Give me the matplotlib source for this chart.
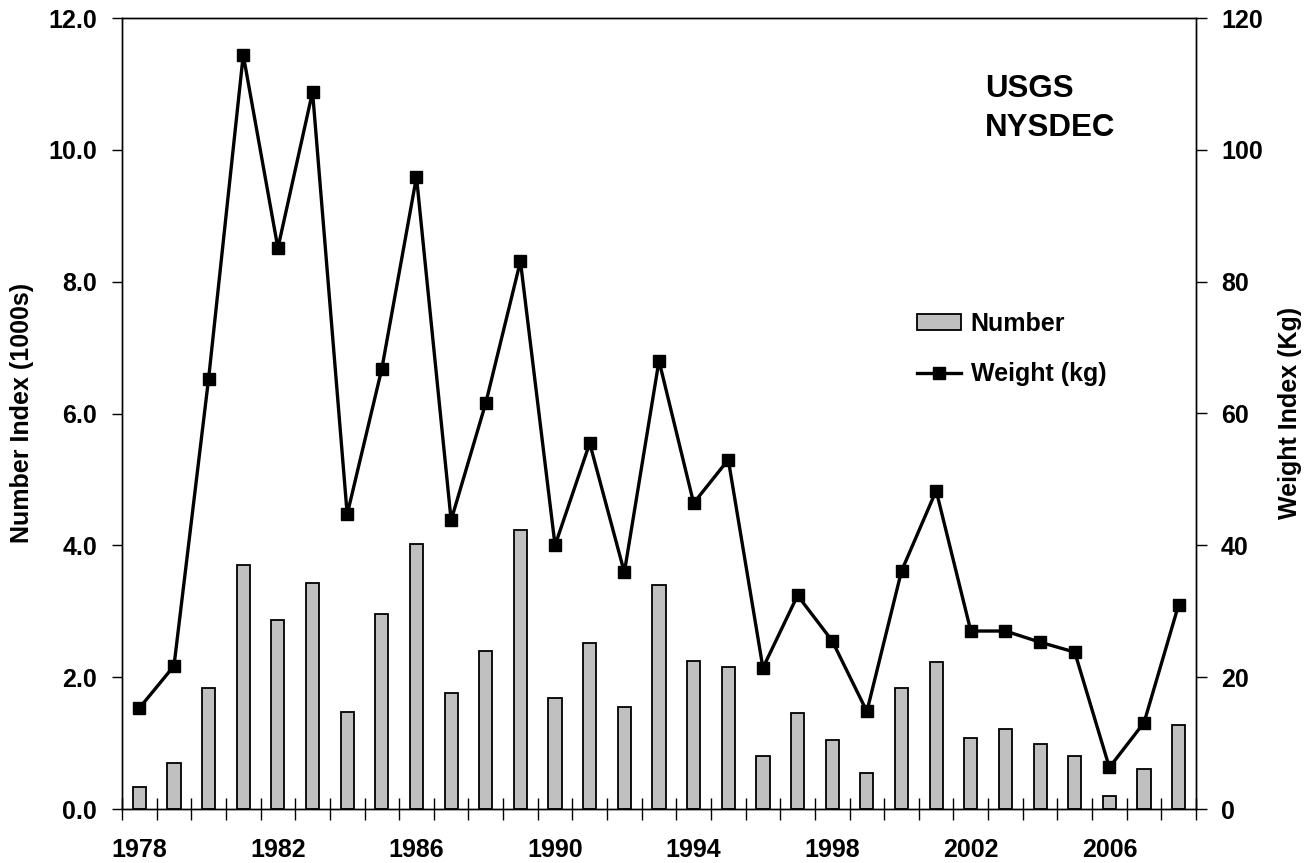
import matplotlib
matplotlib.use("Agg")
import matplotlib.pyplot as plt
import numpy as np
from matplotlib.ticker import FixedLocator, NullFormatter, FixedFormatter

plt.rcParams['font.family'] = ['Liberation Sans', 'DejaVu Sans']
plt.rcParams['font.weight'] = 'bold'

years = list(range(1978, 2009))
number_index = [0.33, 0.70, 1.84, 3.70, 2.87, 3.43, 1.47, 2.96, 4.02, 1.76,
                2.40, 4.23, 1.69, 2.52, 1.54, 3.40, 2.25, 2.16, 0.81, 1.45,
                1.05, 0.54, 1.84, 2.23, 1.08, 1.22, 0.98, 0.81, 0.19, 0.61, 1.28]
weight_index = [15.3, 21.7, 65.3, 114.4, 85.1, 108.8, 44.7, 66.8, 95.9, 43.8,
                61.6, 83.1, 40.0, 55.5, 35.9, 68.0, 46.4, 53.0, 21.4, 32.4,
                25.5, 14.8, 36.1, 48.3, 27.0, 27.0, 25.3, 23.8, 6.3, 13.1, 31.0]
left_ticks = [0, 2, 4, 6, 8, 10, 12]
left_ticklabels = ["0.0", "2.0", "4.0", "6.0", "8.0", "10.0", "12.0"]
right_ticks = [0, 20, 40, 60, 80, 100, 120]
year_labels = [1978, 1982, 1986, 1990, 1994, 1998, 2002, 2006]

W, H = 1314, 863
fig = plt.figure(figsize=(W / 100, H / 100), dpi=100)
ax = fig.add_axes([122 / W, (H - 809) / H, (1196 - 122) / W, (809 - 18) / H])
ax2 = ax.twinx()

x = np.arange(len(years))
bars = ax.bar(x, number_index, width=0.38, color='#c0c0c0', edgecolor='black',
              linewidth=1.3, label='Number', zorder=2)
line, = ax2.plot(x, weight_index, color='black', linewidth=2.4, marker='s',
                 markersize=8.5, markerfacecolor='black', label='Weight (kg)')

ax.set_xlim(-0.5, len(years) - 0.5)
ax.set_ylim(0, 12)
ax2.set_ylim(0, 120)

# x ticks: marks at category boundaries, labels at category centres
ax.xaxis.set_major_locator(FixedLocator(np.arange(len(years) + 1) - 0.5))
ax.xaxis.set_major_formatter(NullFormatter())
label_pos = [years.index(y) for y in year_labels]
ax.xaxis.set_minor_locator(FixedLocator(label_pos))
ax.xaxis.set_minor_formatter(FixedFormatter([str(y) for y in year_labels]))
ax.tick_params(axis='x', which='major', direction='inout', length=16, width=1.0)
ax.tick_params(axis='x', which='minor', length=0, pad=21, labelsize=18)

ax.set_yticks(left_ticks)
ax.set_yticklabels(left_ticklabels)
ax.tick_params(axis='y', direction='out', length=7, width=1.0, pad=11, labelsize=18)
ax2.set_yticks(right_ticks)
ax2.tick_params(axis='y', direction='out', length=8, width=1.0, pad=10, labelsize=18)

for a in (ax, ax2):
    for s in a.spines.values():
        s.set_linewidth(1.0)

fig.text(22 / W, 1 - 413 / H, "Number Index (1000s)", rotation=90,
         ha='center', va='center', fontsize=18, fontweight='bold')
fig.text(1290 / W, 1 - 413 / H, "Weight Index (Kg)", rotation=90,
         ha='center', va='center', fontsize=18, fontweight='bold')

fig.text(985 / W, 1 - 97 / H, "USGS", ha='left', va='baseline',
         fontsize=22.5, fontweight='bold')
fig.text(985 / W, 1 - 136 / H, "NYSDEC", ha='left', va='baseline',
         fontsize=22.5, fontweight='bold')

leg = fig.legend([bars, line], ['Number', 'Weight (kg)'], loc='upper left',
                 bbox_to_anchor=(907 / W, 1 - 302 / H), frameon=False,
                 fontsize=18, handlelength=1.75, handleheight=0.6,
                 handletextpad=0.4, labelspacing=1.05, borderaxespad=0)

fig.savefig("out.png", dpi=100)
